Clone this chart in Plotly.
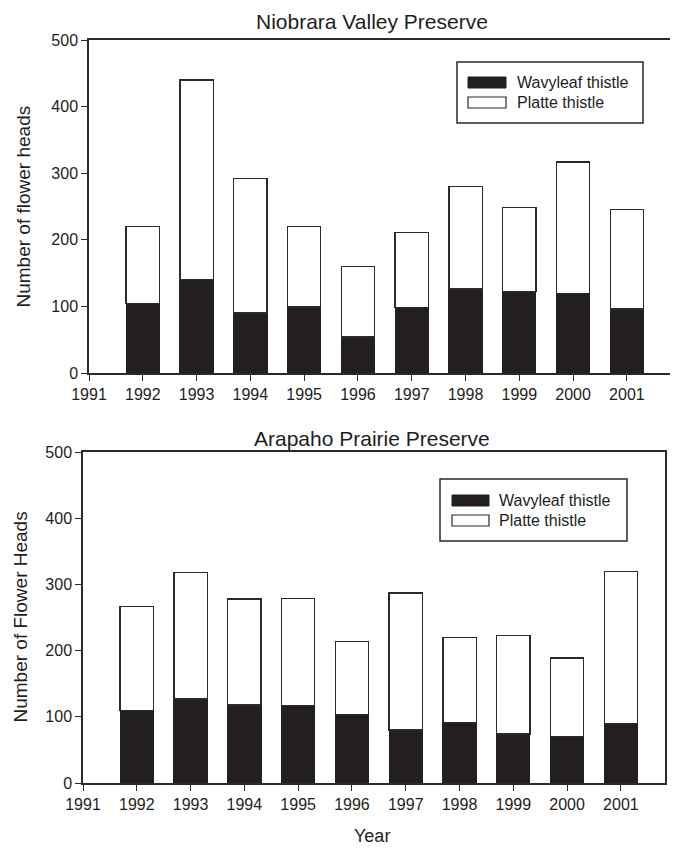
import plotly.graph_objects as go

years = [1992, 1993, 1994, 1995, 1996, 1997, 1998, 1999, 2000, 2001]
x_ticks = [1991, 1992, 1993, 1994, 1995, 1996, 1997, 1998, 1999, 2000, 2001]
y_ticks = [0, 100, 200, 300, 400, 500]

# Niobrara Valley Preserve
niobrara_wavyleaf = [104, 140, 90, 99, 54, 98, 126, 122, 119, 96]
niobrara_total = [220, 440, 292, 220, 160, 211, 280, 249, 317, 246]
niobrara_platte = [t - w for t, w in zip(niobrara_total, niobrara_wavyleaf)]

# Arapaho Prairie Preserve
arapaho_wavyleaf = [110, 127, 118, 117, 103, 80, 91, 74, 70, 90]
arapaho_total = [267, 318, 278, 279, 214, 287, 220, 223, 189, 320]
arapaho_platte = [t - w for t, w in zip(arapaho_total, arapaho_wavyleaf)]

series_names = ["Wavyleaf thistle", "Platte thistle"]
titles = ["Niobrara Valley Preserve", "Arapaho Prairie Preserve"]
y_titles = ["Number of flower heads", "Number of Flower Heads"]
x_title = "Year"

# page is 678x850; the html body has an 8px margin
OFF = 8
W, H = 670, 842
BLACK = "#231f20"
LINE = "#2a2a2a"
TXT = "#1e1e1e"
FONT = "Liberation Sans, Arial, sans-serif"


def px(x):
    return (x - OFF) / W


def py(y):
    return 1 - (y - OFF) / H


fig = go.Figure()

for i, (wavy, platte) in enumerate([(niobrara_wavyleaf, niobrara_platte),
                                    (arapaho_wavyleaf, arapaho_platte)]):
    xa = "x" if i == 0 else "x2"
    ya = "y" if i == 0 else "y2"
    fig.add_trace(go.Bar(x=years, y=wavy, name=series_names[0], width=0.62,
                         marker=dict(color=BLACK, line=dict(color=BLACK, width=1)),
                         xaxis=xa, yaxis=ya, showlegend=False))
    fig.add_trace(go.Bar(x=years, y=platte, name=series_names[1], width=0.62,
                         marker=dict(color="white", line=dict(color=LINE, width=1.3)),
                         xaxis=xa, yaxis=ya, showlegend=False))

axis_common = dict(showgrid=False, zeroline=False, showline=True, linecolor=LINE,
                   linewidth=1.5, mirror=True, ticks="outside", ticklen=6,
                   tickwidth=1.3, tickcolor=LINE, automargin=False,
                   tickfont=dict(family=FONT, size=16, color=TXT))

# plot areas (page pixels)
top_box = (89, 671, 40, 373)
bot_box = (83, 665, 452, 783)

fig.update_layout(
    template="none",
    width=W, height=H, margin=dict(l=0, r=0, t=0, b=0, autoexpand=False),
    paper_bgcolor="white", plot_bgcolor="white", barmode="stack",
    showlegend=False,
    xaxis=dict(domain=[px(top_box[0]), px(top_box[1])], range=[1991, 2001.82],
               tickvals=x_ticks, ticktext=[str(v) for v in x_ticks],
               anchor="y", **axis_common),
    yaxis=dict(domain=[py(top_box[3]), py(top_box[2])], range=[0, 500],
               tickvals=y_ticks, anchor="x", **axis_common),
    xaxis2=dict(domain=[px(bot_box[0]), px(bot_box[1])], range=[1991, 2001.82],
                tickvals=x_ticks, ticktext=[str(v) for v in x_ticks],
                anchor="y2", **axis_common),
    yaxis2=dict(domain=[py(bot_box[3]), py(bot_box[2])], range=[0, 500],
                tickvals=y_ticks, anchor="x2", **axis_common),
)


def label(text, x, y, size, angle=0, xanchor="center"):
    return dict(text=text, x=px(x), y=py(y), xref="paper", yref="paper",
                xanchor=xanchor, yanchor="middle", showarrow=False, textangle=angle,
                font=dict(family=FONT, size=size, color=TXT))


annotations = [
    label(titles[0], 372, 21, 21),
    label(titles[1], 372, 438, 21),
    label(y_titles[0], 23, (top_box[2] + top_box[3]) / 2, 19, angle=-90),
    label(y_titles[1], 20, (bot_box[2] + bot_box[3]) / 2, 19, angle=-90),
    label(x_title, 372, 836, 18),
]

shapes = []
# custom legends: (box left, top, right, bottom, swatch x0, x1, row1 y0,y1, row2 y0,y1, text x)
legends = [
    (457, 62, 643, 123, 468, 506, 77, 88, 97, 108, 515),
    (440, 479, 627, 541, 452, 489, 495, 506, 515, 526, 497),
]
for (l, t, r, b, sx0, sx1, r1a, r1b, r2a, r2b, tx) in legends:
    shapes.append(dict(type="rect", xref="paper", yref="paper", x0=px(l), x1=px(r),
                       y0=py(b), y1=py(t), line=dict(color=LINE, width=1.5),
                       fillcolor="white", layer="above"))
    shapes.append(dict(type="rect", xref="paper", yref="paper", x0=px(sx0), x1=px(sx1),
                       y0=py(r1b), y1=py(r1a), line=dict(color=BLACK, width=1),
                       fillcolor=BLACK, layer="above"))
    shapes.append(dict(type="rect", xref="paper", yref="paper", x0=px(sx0), x1=px(sx1),
                       y0=py(r2b), y1=py(r2a), line=dict(color=LINE, width=1.2),
                       fillcolor="white", layer="above"))
    annotations.append(label(series_names[0], tx, (r1a + r1b) / 2, 16, xanchor="left"))
    annotations.append(label(series_names[1], tx, (r2a + r2b) / 2, 16, xanchor="left"))

fig.update_layout(annotations=annotations, shapes=shapes)

fig.write_html("out.html")
